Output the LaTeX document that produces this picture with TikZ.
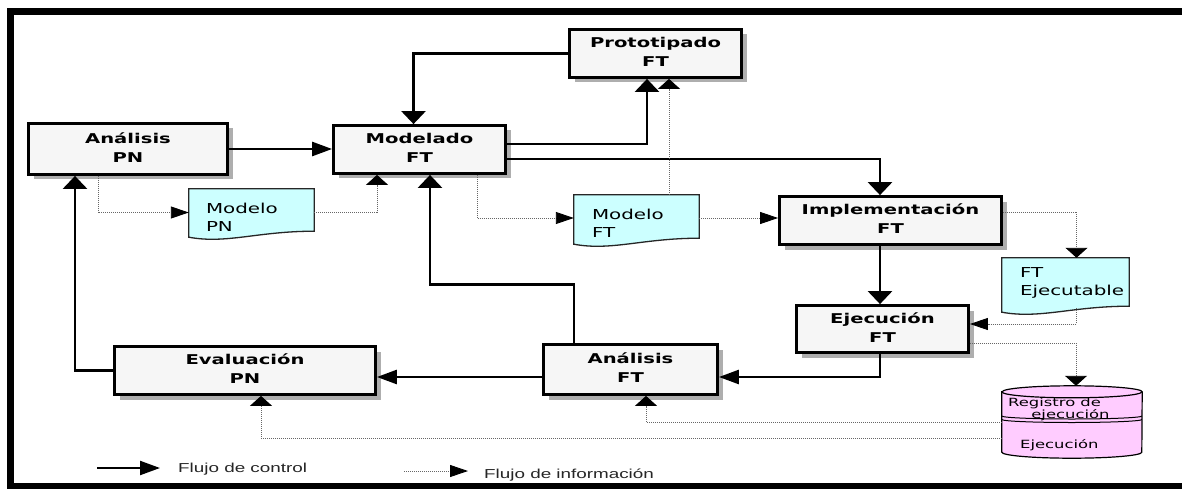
\documentclass[tikz,border=0pt]{standalone}
\usepackage{fontspec}
\usepackage{graphicx}
\usetikzlibrary{arrows.meta,calc,shadows}
\newfontfamily\cfont{DejaVu Sans}
\newfontfamily\lfont{Liberation Sans}
\definecolor{boxfill}{HTML}{F6F6F6}
\definecolor{docfill}{HTML}{CCFFFF}
\definecolor{cylfill}{HTML}{FFCCFF}
\newcommand{\stx}[2][c]{\scalebox{1.45}[1]{\begin{tabular}{@{}#1@{}}#2\end{tabular}}}
\newcommand{\docshape}[1]{%
  \draw[docsh] (#1.north west) -- (#1.north east) -- ($(#1.south east)+(0,-9)$)
    .. controls ($(#1.south west)!0.55!(#1.south east)+(0,-9)$) and ($(#1.south west)!0.3!(#1.south east)+(0,4)$)
    .. ($(#1.south west)+(0,-3)$) -- cycle;}
\tikzset{
  proc/.style={draw=black, line width=2.8pt, fill=boxfill, rectangle, inner sep=0pt,
    drop shadow={shadow xshift=5pt, shadow yshift=-5pt, fill=black!45, opacity=0.7},
    font=\cfont\bfseries\fontsize{13.5}{19}\selectfont},
  docnode/.style={rectangle, inner sep=0pt},
  docsh/.style={draw=black!85, line width=1.3pt, fill=docfill},
  doctext/.style={inner sep=0pt, font=\cfont\fontsize{13.7}{18}\selectfont},
  cyltext/.style={inner sep=0pt, font=\cfont\fontsize{11.3}{10.5}\selectfont},
  legtext/.style={inner sep=0pt, font=\lfont\fontsize{13}{15}\selectfont, text=black!85},
  ctl/.style={line width=2.6pt},
  inf/.style={line width=0.9pt, black!60, dash pattern=on 1pt off 1pt},
  hc/.style={-{Triangle[length=20pt,width=14pt]}},
  vc/.style={-{Triangle[length=13pt,width=24pt]}},
  hi/.style={-{Triangle[length=18pt,width=12pt,color=black]}},
  vi/.style={-{Triangle[length=10pt,width=22pt,color=black]}},
}
\begin{document}
\begin{tikzpicture}[x=1pt,y=-1pt]
\useasboundingbox (0,0) rectangle (1182,489);
\fill[white] (0,0) rectangle (1182,489);
% frame
\draw[line width=7pt] (1190,12) -- (10.5,12) -- (10.5,486.5) -- (1190,486.5);

% process boxes
\node[proc, minimum width=199pt, minimum height=51pt] (apn) at (128,149) {\stx{Análisis\\PN}};
\node[proc, minimum width=172pt, minimum height=48pt] (mft) at (419.5,149.5) {\stx{Modelado\\FT}};
\node[proc, minimum width=172pt, minimum height=48pt] (pft) at (655.5,53.5) {\stx{Prototipado\\FT}};
\node[proc, minimum width=222pt, minimum height=48pt] (ift) at (890.5,220.5) {\stx{Implementación\\FT}};
\node[proc, minimum width=172pt, minimum height=47pt] (eft) at (882.5,329) {\stx{Ejecución\\FT}};
\node[proc, minimum width=174pt, minimum height=50pt] (aft) at (630.5,369.5) {\stx{Análisis\\FT}};
\node[proc, minimum width=261pt, minimum height=48pt] (epn) at (245,370.5) {\stx{Evaluación\\PN}};

% documents
\node[docnode, minimum width=125pt, minimum height=51pt] (mpn) at (251.5,214.5) {};
\node[docnode, minimum width=125pt, minimum height=52pt] (mftd) at (636.5,221) {};
\node[docnode, minimum width=127pt, minimum height=57pt] (fte) at (1065.5,286.5) {};
\docshape{mpn}
\docshape{mftd}
\docshape{fte}
\node[doctext, anchor=west] (mpnt) at ($(mpn.west)+(17,4)$) {\stx[l]{Modelo\\PN}};
\node[doctext, anchor=west] (mftdt) at ($(mftd.west)+(18,4)$) {\stx[l]{Modelo\\FT}};
\node[doctext, anchor=west] (ftet) at ($(fte.west)+(18,-4)$) {\stx[l]{FT\\Ejecutable}};

% database cylinder
\node[rectangle, inner sep=0pt, minimum width=140pt, minimum height=72pt] (cyl) at (1072,422) {};
\path[fill=cylfill, draw=black, line width=1.2pt] ($(cyl.north west)+(0,6)$) -- ($(cyl.south west)+(0,-6)$)
  arc[start angle=180,end angle=360,x radius=70pt,y radius=6pt] -- ($(cyl.north east)+(0,6)$)
  arc[start angle=0,end angle=180,x radius=70pt,y radius=6pt] -- cycle;
\draw[line width=1.2pt] ($(cyl.north west)+(0,6)$) arc[start angle=180,end angle=360,x radius=70pt,y radius=6pt];
\draw[line width=1pt] ($(cyl.west)+(0,-6)$) arc[start angle=180,end angle=360,x radius=70pt,y radius=3pt];
\draw[line width=1pt] ($(cyl.west)+(0,-2.5)$) arc[start angle=180,end angle=360,x radius=70pt,y radius=3pt];
\node[cyltext, anchor=west] (cylt1) at (1008,409.5) {\stx[l]{Registro de\\\hspace*{16pt}ejecución}};
\node[cyltext, anchor=west] (cylt2) at (1020,446) {\stx{Ejecución}};

% control flow
\draw[ctl,hc] (apn.east) -- (apn.east -| mft.west);
\draw[ctl,vc] (pft.west) -| ([xshift=-6pt]mft.north);
\draw[ctl,vc] ([yshift=5.5pt]mft.east) -| ([xshift=-8.5pt]pft.south);
\draw[ctl,vc] ([yshift=-9.5pt]mft.east) -| ([xshift=-10.5pt]ift.north);
\draw[ctl,vc] ([xshift=-10.5pt]ift.south) -- ([xshift=-2.5pt]eft.north);
\draw[ctl,hc] ([xshift=-2.5pt]eft.south) |- ([yshift=-7.5pt]aft.east);
\draw[ctl,hc] ([yshift=-7.5pt]aft.west) -- ([yshift=-7.5pt]aft.west -| epn.east);
\draw[ctl,vc] ([xshift=-56.5pt]aft.north) |- ([xshift=10.5pt,yshift=-109.5pt]mft.south) -- ([xshift=10.5pt]mft.south);
\draw[ctl,vc] (epn.west) -| ([xshift=-53pt]apn.south);

% information flow
\draw[inf,hi] ([xshift=-30pt]apn.south) |- ([yshift=2pt]mpn.west);
\draw[inf,vi] ([yshift=2pt]mpn.east) -| ([xshift=-42.5pt]mft.south);
\draw[inf,hi] ([xshift=57.5pt]mft.south) |- ([yshift=3pt]mftd.west);
\draw[inf,vi] ([xshift=32.5pt]mftd.north) -- ([xshift=13.5pt]pft.south);
\draw[inf,hi] ([yshift=3pt]mftd.east) -- ([yshift=3pt]mftd.east -| ift.west);
\draw[inf,vi] ([yshift=8.5pt]ift.east) -| ([xshift=11pt]fte.north);
\draw[inf,hi] ([xshift=11pt,yshift=7pt]fte.south) |- ([yshift=5pt]eft.east);
\draw[inf,vi] ([yshift=-14pt]eft.east) -| ([xshift=4pt]cyl.north);
\draw[inf,vi] (cyl.west) -| ([xshift=15.5pt]aft.south);
\draw[inf,vi] ([yshift=-16pt]cyl.west) -| ([xshift=16pt]epn.south);

% legend
\coordinate (lc1) at (97,468);
\coordinate (lc2) at (160,468);
\draw[ctl,hc,line width=2.2pt] (lc1) -- (lc2);
\node[legtext, anchor=west] (lct) at (178,469) {\stx{Flujo de control}};
\coordinate (li1) at (404,471);
\coordinate (li2) at (468,471);
\draw[inf,hi] (li1) -- (li2);
\node[legtext, anchor=west] (lit) at (484,475) {\stx{Flujo de información}};
\end{tikzpicture}
\end{document}
